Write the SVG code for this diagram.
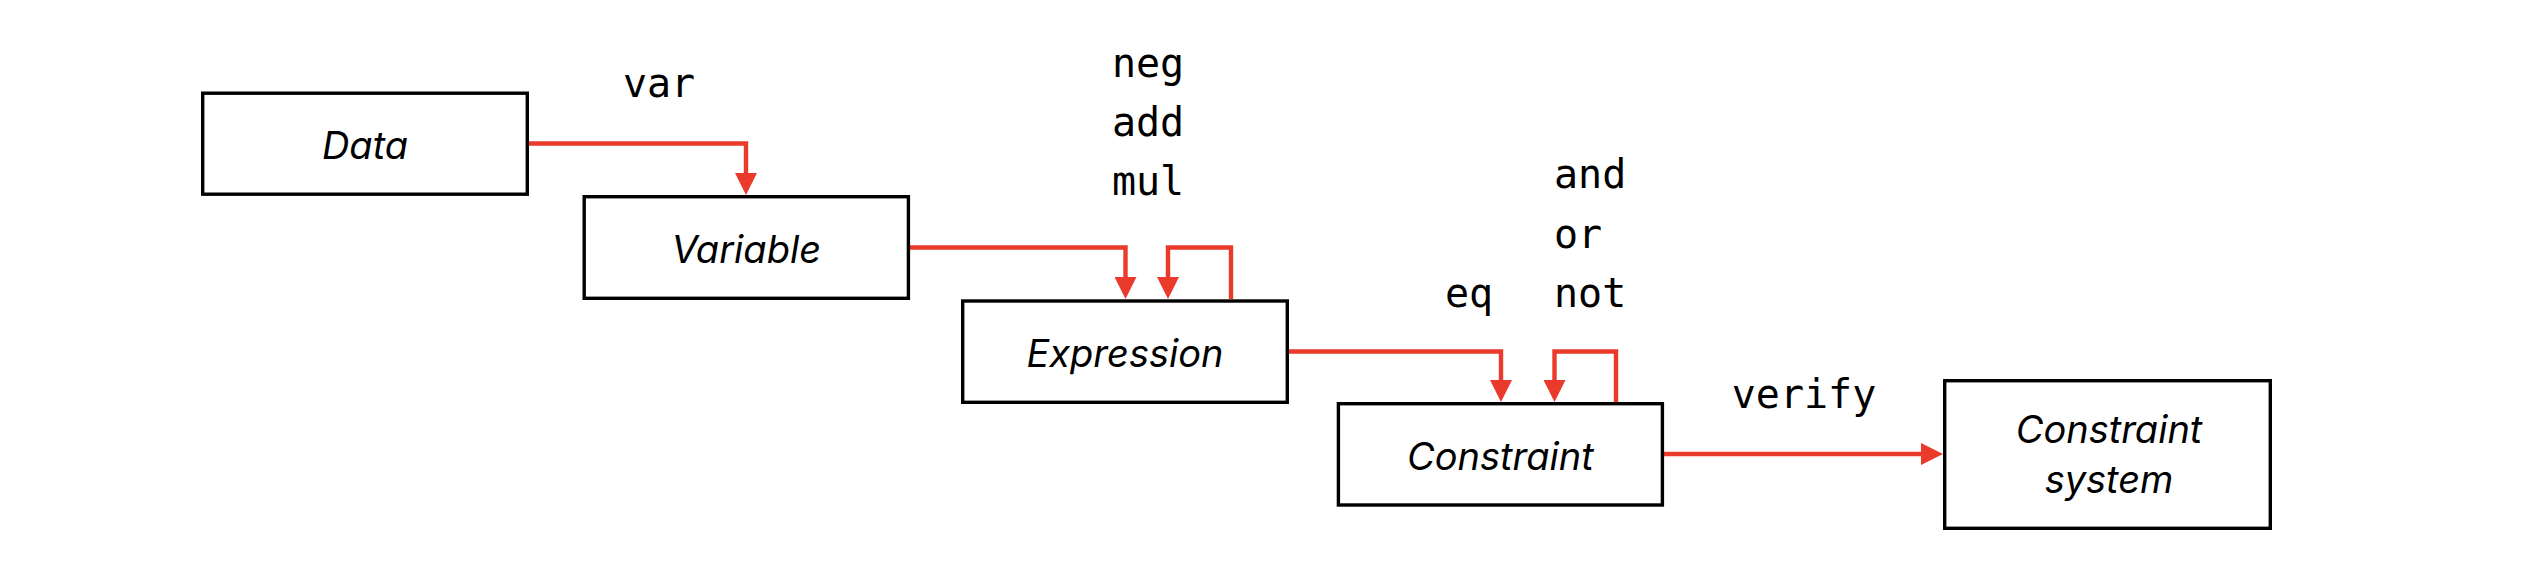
<svg xmlns="http://www.w3.org/2000/svg" width="2530" height="574" viewBox="0 0 2530 574">
<style>
.box{fill:#fff;stroke:#000;stroke-width:3.4}
.lbl{font-family:Inter,"Liberation Sans","DejaVu Sans",sans-serif;font-style:italic;font-size:38px;fill:#000;text-anchor:middle}
.code{font-family:"DejaVu Sans Mono","Liberation Mono",monospace;font-size:40px;fill:#000}
.con{fill:none;stroke:#EA3A2B;stroke-width:4.4;marker-end:url(#arr)}
</style>
<defs>
<marker id="arr" markerUnits="userSpaceOnUse" markerWidth="22" markerHeight="22" refX="2" refY="11" orient="auto" viewBox="0 0 22 22">
<path d="M0,0 L22,11 L0,22 z" fill="#EA3A2B"/>
</marker>
</defs>
<rect width="2530" height="574" fill="#fff"/>
<g id="connectors">
<path class="con" d="M529,143.5 H746 V175"/>
<path class="con" d="M910,247.5 H1125.5 V279"/>
<path class="con" d="M1231,299 V247.5 H1168 V279"/>
<path class="con" d="M1289,351.5 H1501 V382"/>
<path class="con" d="M1616,402 V351.5 H1554.5 V382"/>
<path class="con" d="M1664,454 H1923"/>
</g>
<g id="edge-labels">
<text class="code" x="659" y="97" text-anchor="middle">var</text>
<text class="code" x="1148" y="76.5" text-anchor="middle">neg</text>
<text class="code" x="1148" y="135.8" text-anchor="middle">add</text>
<text class="code" x="1148" y="195" text-anchor="middle">mul</text>
<text class="code" x="1469" y="307" text-anchor="middle">eq</text>
<text class="code" x="1554" y="188.3">and</text>
<text class="code" x="1554" y="247.5">or</text>
<text class="code" x="1554" y="306.8">not</text>
<text class="code" x="1804" y="408" text-anchor="middle">verify</text>
</g>
<g id="node-data">
<rect class="box" x="202.7" y="93.2" width="324.6" height="101"/>
<text class="lbl" x="365" y="159.3">Data</text>
</g>
<g id="node-variable">
<rect class="box" x="584.2" y="196.7" width="324.2" height="101.6"/>
<text class="lbl" x="746.3" y="262.8">Variable</text>
</g>
<g id="node-expression">
<rect class="box" x="962.7" y="301" width="324.6" height="101.3"/>
<text class="lbl" x="1125" y="367.3">Expression</text>
</g>
<g id="node-constraint">
<rect class="box" x="1338.4" y="403.7" width="324" height="101.3"/>
<text class="lbl" x="1500.4" y="470">Constraint</text>
</g>
<g id="node-constraint-system">
<rect class="box" x="1944.7" y="380.7" width="325.6" height="147.6"/>
<text class="lbl" x="2109" y="443.3">Constraint</text>
<text class="lbl" x="2109" y="493">system</text>
</g>
</svg>
